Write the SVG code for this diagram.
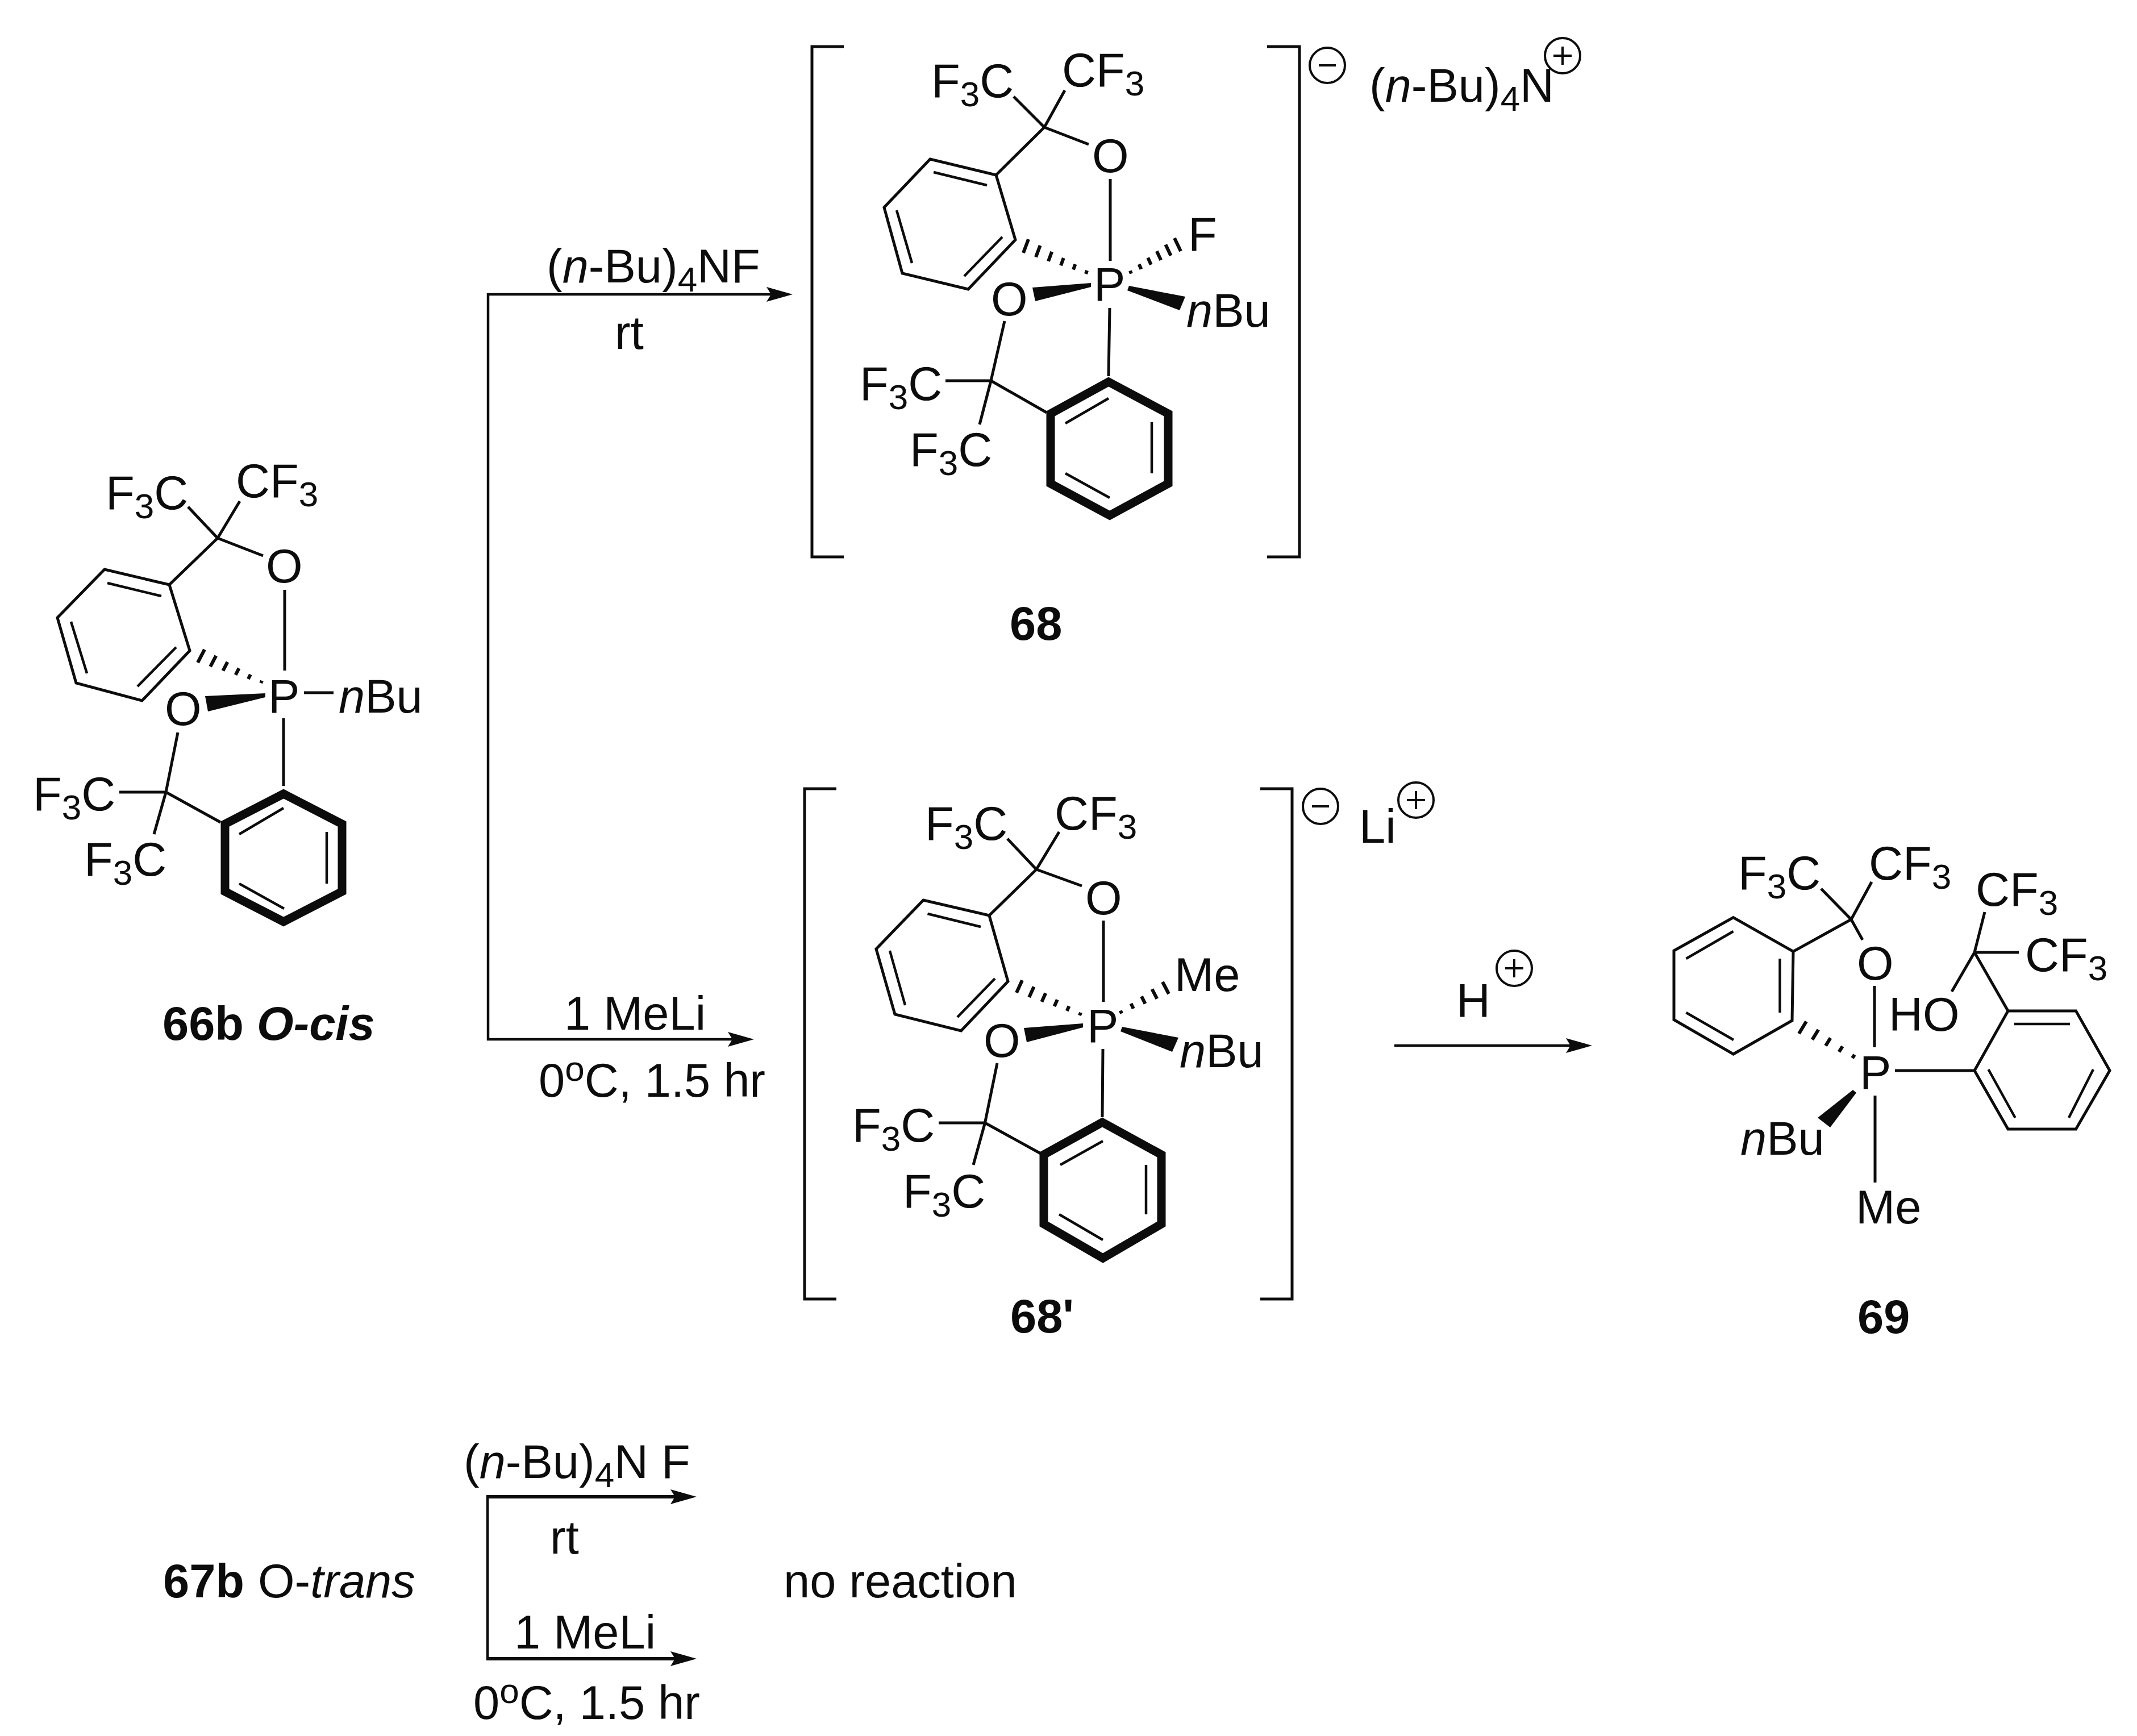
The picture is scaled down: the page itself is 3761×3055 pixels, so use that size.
<svg xmlns="http://www.w3.org/2000/svg" width="3761" height="3055" viewBox="0 0 3761 3055">
<style>
text{font-family:"Liberation Sans",Arial,sans-serif;font-size:83px;fill:#0c0c0c}
.s{font-size:62px}
.b{font-weight:700}
.i{font-style:italic}
.bond,.dbl,.thick,.hash,.brk,.chg,.arr{fill:none;stroke:#0c0c0c;stroke-linecap:butt;stroke-linejoin:miter}
.bond{stroke-width:5}
.dbl{stroke-width:4.5}
.thick{stroke-width:15}
.hash{stroke-width:6}
.brk{stroke-width:5}
.chg{stroke-width:4}
.arr{stroke-width:4.5}
.arr2{stroke-width:6}
.wedge{fill:#0c0c0c}
</style>
<defs>
<marker id="ah" markerUnits="userSpaceOnUse" markerWidth="46" markerHeight="28" viewBox="0 0 46 28" refX="36" refY="14" orient="auto"><path d="M46,14 L0,1 L8,14 L0,27 Z" fill="#0c0c0c"/></marker>
<g id="minus"><circle class="chg" r="31"/><path class="chg" d="M-15,0H15"/></g>
<g id="plus"><circle class="chg" r="31"/><path class="chg" d="M-16,0H16M0,-16V16"/></g>
</defs>
<rect width="3761" height="3055" fill="#fff"/>

<g id="connectors">
<path class="arr" d="M859,516V1831"/>
<path class="arr" d="M857,518H1385" marker-end="url(#ah)"/>
<path class="arr" d="M857,1829H1317" marker-end="url(#ah)"/>
<path class="arr" d="M2454,1840H2792" marker-end="url(#ah)"/>
<path class="arr" d="M858,2632V2921"/>
<path class="arr arr2" d="M856,2634H1216" marker-end="url(#ah)"/>
<path class="arr arr2" d="M856,2919H1216" marker-end="url(#ah)"/>
</g>

<g id="labels-top">
<text x="962" y="497">(<tspan class="i">n</tspan>-Bu)<tspan class="s" dy="16">4</tspan><tspan dy="-16">NF</tspan></text>
<text x="1082" y="614">rt</text>
<text x="993" y="1812">1 MeLi</text>
<text x="948" y="1930">0<tspan class="s" dy="-28">o</tspan><tspan dy="28">C, 1.5 hr</tspan></text>
</g>

<g id="c66b">
<path class="bond" d="M331,892L383,947M422,882L383,947M463,978L383,947M383,947L298,1029L184,1002L101,1087L134,1202L250,1233L334,1145L298,1029"/>
<path class="dbl" d="M189,1026L284,1049M125,1094L153,1185M242,1208L310,1139"/>
<path class="bond" d="M501,1038V1180M535,1219H587M499,1264V1383M313,1289L292,1394M210,1394H292M271,1468L292,1394M388,1447L292,1394"/>
<path class="hash" d="M360,1143L348,1166M380.2,1154L370.2,1173.2M400.4,1165L392.4,1180.4M420.6,1176L414.6,1187.6M440.8,1187L436.8,1194.8M461,1198L459,1202"/>
<path class="wedge" d="M467,1220L361,1225L366,1252L467,1227Z"/>
<path class="thick" d="M499,1397L602,1450V1569L499,1622L396,1569V1450Z"/>
<path class="dbl" d="M421,1468L499,1422M575,1464V1555M421,1555L500,1599"/>
<text x="186" y="896">F<tspan class="s" dy="16">3</tspan><tspan dy="-16">C</tspan></text>
<text x="415" y="875">CF<tspan class="s" dy="16">3</tspan></text>
<text x="468" y="1025">O</text>
<text x="290" y="1276">O</text>
<text x="472" y="1254">P</text>
<text x="596" y="1254"><tspan class="i">n</tspan>Bu</text>
<text x="58" y="1426">F<tspan class="s" dy="16">3</tspan><tspan dy="-16">C</tspan></text>
<text x="148" y="1541">F<tspan class="s" dy="16">3</tspan><tspan dy="-16">C</tspan></text>
<text class="b" x="286" y="1830">66b</text>
<text class="b i" x="452" y="1830">O-cis</text>
</g>

<g id="c68">
<path class="brk" d="M1485,82H1429V980H1485M2230,82H2287V980H2230"/>
<path class="bond" d="M1784,170L1838,224M1874,159L1838,224M1916,254L1838,224M1838,224L1753,308L1637,280L1556,365L1588,481L1704,509L1787,422L1753,308"/>
<path class="dbl" d="M1643,303L1737,326M1578,370L1605,463M1697,486L1764,417"/>
<path class="bond" d="M1954,315V459M1953,542L1951,662M1768,565L1744,670M1664,670H1744M1724,747L1744,670M1842,726L1744,670"/>
<path class="hash" d="M1810,421L1801,445M1830.6,432L1823,452.4M1851.2,443L1845,459.8M1871.8,454L1867,467.2M1892.4,465L1889,474.6M1913,476L1911,482"/>
<path class="hash" d="M1989,476.5L1991,481.5M2004.6,465L2008.4,473.6M2020.2,453.5L2025.8,465.7M2035.8,442L2043.2,457.8M2051.4,430.5L2060.6,449.9M2067,419L2078,442"/>
<path class="wedge" d="M1920,498L1817,506L1822,530L1920,505Z"/>
<path class="wedge" d="M1987,503L2086,522L2076,546L1984,511Z"/>
<path class="thick" d="M1951,672L2056,728V851L1953,907L1849,851V728Z"/>
<path class="dbl" d="M1875,745L1951,701M2027,743V833M1875,833L1953,876"/>
<text x="1639" y="171">F<tspan class="s" dy="16">3</tspan><tspan dy="-16">C</tspan></text>
<text x="1869" y="152">CF<tspan class="s" dy="16">3</tspan></text>
<text x="1922" y="303">O</text>
<text x="1744" y="555">O</text>
<text x="1925" y="529">P</text>
<text x="2091" y="441">F</text>
<text x="2088" y="575"><tspan class="i">n</tspan>Bu</text>
<text x="1513" y="704">F<tspan class="s" dy="16">3</tspan><tspan dy="-16">C</tspan></text>
<text x="1601" y="820">F<tspan class="s" dy="16">3</tspan><tspan dy="-16">C</tspan></text>
<text class="b" x="1777" y="1126">68</text>
<use href="#minus" x="2336" y="115"/>
<text x="2410" y="179">(<tspan class="i">n</tspan>-Bu)<tspan class="s" dy="16">4</tspan><tspan dy="-16">N</tspan></text>
<use href="#plus" x="2750" y="98"/>
</g>

<g id="c68p">
<path class="brk" d="M1472,1388H1416V2286H1472M2218,1388H2274V2286H2218"/>
<path class="bond" d="M1773,1476L1824,1530M1864,1464L1824,1530M1904,1559L1824,1530M1824,1530L1741,1611L1625,1584L1542,1670L1575,1785L1691.5,1814L1774,1727L1741,1611"/>
<path class="dbl" d="M1632.5,1608L1726,1631M1566,1673L1593,1769M1685,1790L1751,1722"/>
<path class="bond" d="M1942,1620V1763M1941,1846L1940,1966M1755,1871L1733.5,1976M1652,1976H1733.5M1713,2050L1733.5,1976M1831.5,2030L1733.5,1976"/>
<path class="hash" d="M1799,1725L1789,1747M1819.6,1736.4L1811.2,1755M1840.2,1747.8L1833.4,1763M1860.8,1759.2L1855.6,1771M1881.4,1770.6L1877.8,1779M1902,1782L1900,1787"/>
<path class="hash" d="M1972,1778.5L1974,1783.5M1990.5,1765.9L1994.7,1774.9M2009,1753.3L2015.5,1766.3M2027.5,1740.6L2036.3,1757.6M2046,1728L2057,1749"/>
<path class="wedge" d="M1906,1801L1802,1809L1807,1834L1906,1808Z"/>
<path class="wedge" d="M1975,1807L2074,1826L2063,1851L1972,1815Z"/>
<path class="thick" d="M1940,1975L2044,2032V2154L1941,2214L1837,2154V2032Z"/>
<path class="dbl" d="M1866,2050L1941,2008M2017,2050V2137M1864,2137L1941,2182"/>
<text x="1628" y="1478">F<tspan class="s" dy="16">3</tspan><tspan dy="-16">C</tspan></text>
<text x="1856" y="1460">CF<tspan class="s" dy="16">3</tspan></text>
<text x="1910" y="1609">O</text>
<text x="1731" y="1860">O</text>
<text x="1913" y="1834">P</text>
<text x="2067" y="1744">Me</text>
<text x="2076" y="1878"><tspan class="i">n</tspan>Bu</text>
<text x="1500" y="2009">F<tspan class="s" dy="16">3</tspan><tspan dy="-16">C</tspan></text>
<text x="1589" y="2125">F<tspan class="s" dy="16">3</tspan><tspan dy="-16">C</tspan></text>
<text class="b" x="1778" y="2345">68'</text>
<use href="#minus" x="2324" y="1419"/>
<text x="2392" y="1483">Li</text>
<use href="#plus" x="2492" y="1408"/>
</g>

<g id="c69">
<text x="2563" y="1790">H</text>
<use href="#plus" x="2665" y="1704"/>
<path class="bond" d="M3205,1564L3258,1618M3294,1552L3258,1618M3278,1654L3258,1618M3258,1618L3156,1674.5L3050.5,1614.5L2946,1673V1794.5L3050.5,1855L3154,1796L3156,1674.5"/>
<path class="dbl" d="M3050.5,1639L2967.5,1687M3132.5,1687V1782M2967.5,1782L3051,1830"/>
<path class="bond" d="M3299,1735V1843M3300,1928V2081M3335,1884H3475L3534,1779H3653.5L3713,1884L3653.5,1987H3534L3475,1884M3475,1676L3493,1605M3475,1676H3553M3475,1676L3435,1745M3475,1676L3534,1779"/>
<path class="dbl" d="M3545,1802H3643M3684,1882L3641,1967M3499.5,1882L3546.6,1967"/>
<path class="hash" d="M3179,1797.5L3166,1819M3200.3,1812L3189.5,1829.6M3221.5,1826.6L3213,1840.4M3242.7,1841.4L3236.5,1851.2M3264,1856L3260,1862"/>
<path class="wedge" d="M3261,1918L3199,1967L3221,1984L3267,1923Z"/>
<text x="3059" y="1565">F<tspan class="s" dy="16">3</tspan><tspan dy="-16">C</tspan></text>
<text x="3289" y="1548">CF<tspan class="s" dy="16">3</tspan></text>
<text x="3268" y="1724">O</text>
<text x="3273" y="1916">P</text>
<text x="3477" y="1594">CF<tspan class="s" dy="16">3</tspan></text>
<text x="3564" y="1709">CF<tspan class="s" dy="16">3</tspan></text>
<text x="3324" y="1814">HO</text>
<text x="3063" y="2032"><tspan class="i">n</tspan>Bu</text>
<text x="3266" y="2153">Me</text>
<text class="b" x="3269" y="2346">69</text>
</g>

<g id="c67b">
<text class="b" x="287" y="2811">67b</text>
<text x="454" y="2811">O-<tspan class="i">trans</tspan></text>
<text x="816" y="2601">(<tspan class="i">n</tspan>-Bu)<tspan class="s" dy="16">4</tspan><tspan dy="-16">N F</tspan></text>
<text x="968" y="2734">rt</text>
<text x="905" y="2901">1 MeLi</text>
<text x="833" y="3025">0<tspan class="s" dy="-28">o</tspan><tspan dy="28">C, 1.5 hr</tspan></text>
<text x="1379" y="2811">no reaction</text>
</g>
</svg>
